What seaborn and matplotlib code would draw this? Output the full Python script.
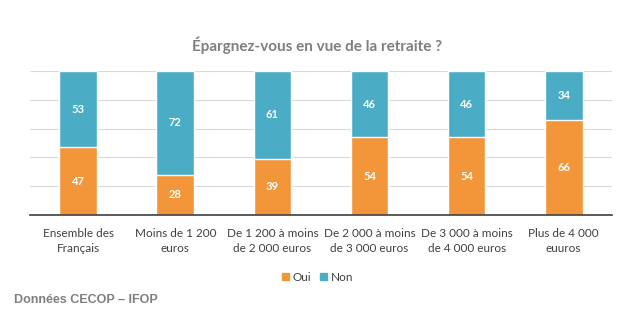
import matplotlib
matplotlib.use("Agg")
import matplotlib.pyplot as plt
import seaborn as sns
import pandas as pd
import numpy as np
from matplotlib.patches import Patch

categories = ["Ensemble des\nFrançais", "Moins de 1 200\neuros", "De 1 200 à moins\nde 2 000 euros",
              "De 2 000 à moins\nde 3 000 euros", "De 3 000 à moins\nde 4 000 euros", "Plus de 4 000\neuuros"]
oui = [47, 28, 39, 54, 54, 66]
non = [53, 72, 61, 46, 46, 34]

sns.set_theme(style="white")
plt.rcParams['font.family'] = ['Lato', 'DejaVu Sans']

c_oui = "#F39639"
c_non = "#4BACC6"

fig = plt.figure(figsize=(6.35, 3.21), dpi=100)
ax = fig.add_axes([0.047, 0.330, 0.917, 0.449])

df = pd.DataFrame({"cat": categories, "Oui": oui, "Non": non})
df["tot"] = df["Oui"] + df["Non"]
sns.barplot(data=df, x="cat", y="tot", color=c_non, width=0.39, ax=ax, saturation=1)
sns.barplot(data=df, x="cat", y="Oui", color=c_oui, width=0.39, ax=ax, saturation=1)
if ax.get_legend() is not None:
    ax.get_legend().remove()

for i, (o, n) in enumerate(zip(oui, non)):
    ax.text(i, o / 2, str(o), ha="center", va="center", color="white", fontsize=8, fontweight="bold")
    ax.text(i, o + n / 2, str(n), ha="center", va="center", color="white", fontsize=8, fontweight="bold")

ax.set_ylim(0, 100)
ax.set_xlim(-0.5, 5.5)
ax.set_yticks([0, 20, 40, 60, 80, 100])
ax.set_yticklabels([])
ax.yaxis.grid(True, color="#d9d9d9", linewidth=0.8)
ax.set_axisbelow(True)
for s in ["left", "right", "top"]:
    ax.spines[s].set_visible(False)
ax.spines["bottom"].set_color("#404040")
ax.spines["bottom"].set_linewidth(1.2)
ax.set_xlabel("")
ax.set_ylabel("")
ax.tick_params(axis="x", length=0, pad=9, labelsize=8.5, labelcolor="#404040")
ax.tick_params(axis="y", length=0)
for t in ax.get_xticklabels():
    t.set_linespacing(1.45)

handles = [Patch(color=c_oui, label="Oui"), Patch(color=c_non, label="Non")]
fig.legend(handles=handles, loc="center", bbox_to_anchor=(0.5, 0.137), ncol=2, frameon=False,
           fontsize=8.5, handlelength=0.6, handleheight=0.6, handletextpad=0.3, columnspacing=0.8,
           labelcolor="#404040")

fig.text(0.5, 0.86, "Épargnez-vous en vue de la retraite ?", ha="center", va="center",
         fontsize=11, fontweight="bold", color="#7f7f7f")
fig.text(0.022, 0.065, "Données CECOP – IFOP", ha="left", va="center",
         fontsize=9, fontweight="bold", color="#7f7f7f", family=["Liberation Sans Narrow", "Liberation Sans", "DejaVu Sans"])

fig.savefig("out.png", dpi=100)
